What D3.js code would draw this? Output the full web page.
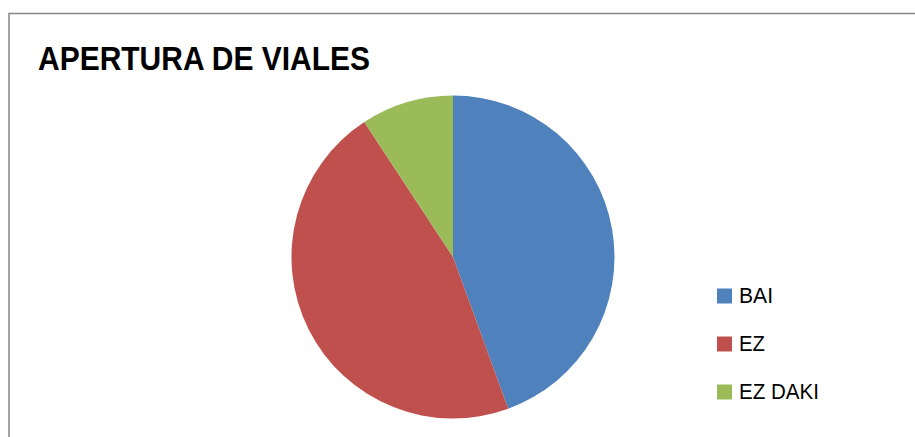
<!DOCTYPE html>
<html><head><meta charset="utf-8">
<script src="https://cdn.jsdelivr.net/npm/d3@7/dist/d3.min.js"></script>
<style>html,body{margin:0;padding:0;background:#fff;overflow:hidden}</style>
</head><body>
<svg id="c" width="915" height="437"></svg>
<script>
const title = "APERTURA DE VIALES";
const categories = ["BAI", "EZ", "EZ DAKI"];
const values = [48, 50, 10];
const colors = ["#4F81BD", "#C0504D", "#9BBB59"];

const svg = d3.select("#c");
// chart border (top and left visible)
svg.append("path").attr("d", "M9,437 V13.5 H915")
  .attr("fill", "none").attr("stroke", "#868686").attr("stroke-width", 1.5);

const font = "'Liberation Sans', Arial, sans-serif";
svg.append("text").attr("x", 38).attr("y", 70)
  .attr("font-family", font).attr("font-weight", "bold").attr("font-size", 34)
  .attr("fill", "#000").attr("textLength", 332).attr("lengthAdjust", "spacingAndGlyphs")
  .text(title);

const cx = 453, cy = 257, r = 161.5;
const pie = d3.pie().sort(null).value(d => d)(values);
const arc = d3.arc().innerRadius(0).outerRadius(r);
const g = svg.append("g").attr("transform", `translate(${cx},${cy})`);
g.selectAll("path").data(pie).join("path")
  .attr("d", arc).attr("fill", (d, i) => colors[i]);

const legendY = d3.scalePoint().domain(categories).range([303, 399]);
const widths = [34, 26, 80];
const lg = svg.append("g");
categories.forEach((c, i) => {
  const y = legendY(c);
  lg.append("rect").attr("x", 717).attr("y", y - 14.5).attr("width", 15).attr("height", 15)
    .attr("fill", colors[i]);
  lg.append("text").attr("x", 739).attr("y", y)
    .attr("font-family", font).attr("font-size", 22).attr("fill", "#000")
    .attr("textLength", widths[i]).attr("lengthAdjust", "spacingAndGlyphs")
    .text(c);
});
</script>
</body></html>
